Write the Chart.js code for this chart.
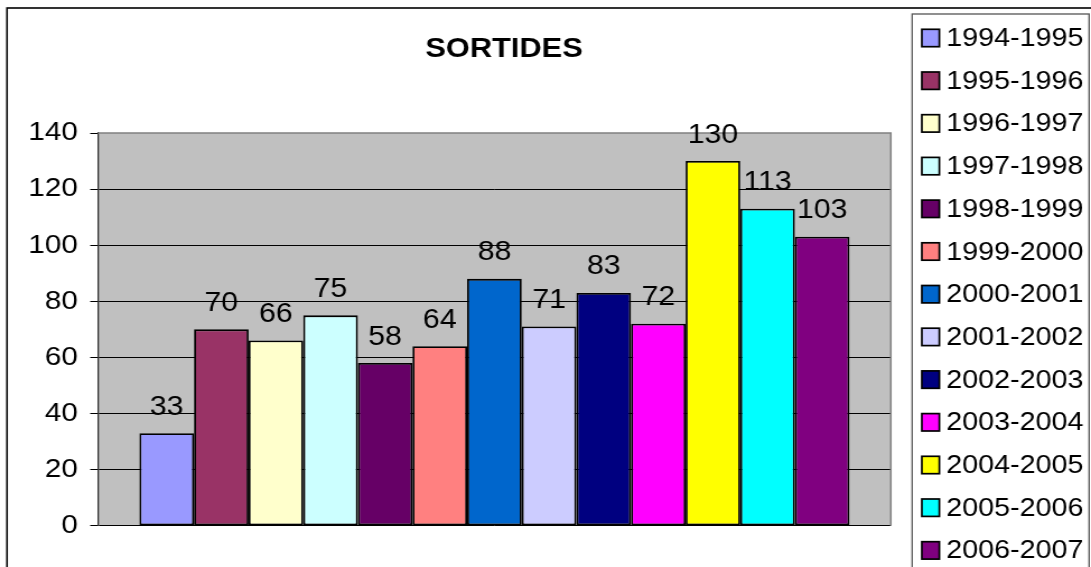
<!DOCTYPE html>
<html>
<head>
<meta charset="utf-8">
<script src="https://cdn.jsdelivr.net/npm/chart.js@4/dist/chart.umd.min.js"></script>
<style>
  html, body { margin: 0; padding: 0; background: #fff; overflow: hidden; }
</style>
</head>
<body>
<!-- the source picture is stretched sideways, so the canvas is too -->
<canvas id="chart" width="974" height="567" style="width:1091px;height:567px"></canvas>
<script>
const seasons = [
  '1994-1995', '1995-1996', '1996-1997', '1997-1998', '1998-1999',
  '1999-2000', '2000-2001', '2001-2002', '2002-2003', '2003-2004',
  '2004-2005', '2005-2006', '2006-2007'
]
const sortides = [33, 70, 66, 75, 58, 64, 88, 71, 83, 72, 130, 113, 103]
const colors = [
  '#9999FF', '#993366', '#FFFFCC', '#CCFFFF', '#660066',
  '#FF8080', '#0066CC', '#CCCCFF', '#000080', '#FF00FF',
  '#FFFF00', '#00FFFF', '#800080'
]
const yMin = 0
const yMax = 140
const yStep = 20

const FONT = "'Liberation Sans', Arial, sans-serif"

// grey plot area, Excel style
const plotArea = {
  id: 'plotArea',
  beforeDraw (chart) {
    const { ctx, chartArea: a } = chart
    ctx.save()
    ctx.fillStyle = '#C0C0C0'
    ctx.fillRect(a.left, a.top, a.right - a.left, a.bottom - a.top)
    ctx.restore()
  },
  beforeDatasetsDraw (chart) {
    const { ctx, chartArea: a } = chart
    ctx.save()
    ctx.strokeStyle = '#808080'
    ctx.lineWidth = 1.5
    ctx.beginPath()
    ctx.moveTo(a.left, a.top)
    ctx.lineTo(a.right, a.top)
    ctx.lineTo(a.right, a.bottom)
    ctx.stroke()
    ctx.restore()
  }
}

// title, value labels, legend box and outer frame
const decorations = {
  id: 'decorations',
  afterDraw (chart) {
    const { ctx, width, height } = chart
    ctx.save()

    // outer frame (runs off the right and bottom edges)
    ctx.strokeStyle = '#000'
    ctx.lineWidth = 1.6
    ctx.strokeRect(6.25, 8, width + 20, height + 20)

    // title
    ctx.fillStyle = '#000'
    ctx.font = 'bold 27.5px ' + FONT
    ctx.textAlign = 'center'
    ctx.textBaseline = 'alphabetic'
    ctx.fillText('SORTIDES', 450, 57)

    // value labels above each bar
    ctx.font = '27px ' + FONT
    chart.data.datasets.forEach((ds, i) => {
      const meta = chart.getDatasetMeta(i)
      meta.data.forEach((bar, j) => {
        ctx.fillText(String(ds.data[j]), bar.x, bar.y - 18.5)
      })
    })

    // legend box
    ctx.fillStyle = '#fff'
    ctx.fillRect(814.3, 14, 158, height)
    ctx.strokeStyle = '#555'
    ctx.lineWidth = 1.3
    ctx.strokeRect(814.3, 14, 158, height + 20)

    ctx.font = '25.6px ' + FONT
    ctx.textAlign = 'left'
    ctx.textBaseline = 'middle'
    chart.data.datasets.forEach((ds, i) => {
      const cy = 38 + i * 42.7
      ctx.fillStyle = ds.backgroundColor
      ctx.fillRect(823, cy - 8.7, 15.6, 17.4)
      ctx.strokeStyle = '#000'
      ctx.lineWidth = 1.7
      ctx.strokeRect(823, cy - 8.7, 15.6, 17.4)
      ctx.fillStyle = '#000'
      ctx.fillText(ds.label, 844.8, cy + 1)
    })

    ctx.restore()
  }
}

const datasets = seasons.map((season, idx) => ({
  label: season,
  data: [sortides[idx]],
  backgroundColor: colors[idx],
  borderColor: '#000',
  borderWidth: 1.8,
  borderSkipped: false,
  categoryPercentage: 0.8957,
  barPercentage: 1
}))

const ctx = document.getElementById('chart').getContext('2d')

/* eslint-disable no-new */
new Chart(ctx, {
  type: 'bar',
  data: { labels: [''], datasets },
  options: {
    responsive: false,
    animation: false,
    devicePixelRatio: 1,
    layout: { padding: { top: 133, right: 178.7, bottom: 41.3, left: 0 } },
    plugins: {
      legend: { display: false },
      title: { display: false },
      tooltip: { enabled: false }
    },
    scales: {
      x: { display: false },
      y: {
        min: yMin,
        max: yMax,
        ticks: {
          stepSize: yStep,
          color: '#000',
          padding: 11,
          font: { family: FONT, size: 26.5 }
        },
        grid: {
          color: (c) => (c.tick && c.tick.value === yMax ? 'rgba(0,0,0,0)' : '#000'),
          lineWidth: 1,
          tickLength: 7,
          tickColor: '#000'
        },
        border: { color: '#333', width: 1.3 },
        afterFit: (scale) => { scale.width = 87.5 }
      }
    }
  },
  plugins: [plotArea, decorations]
})
</script>
</body>
</html>
